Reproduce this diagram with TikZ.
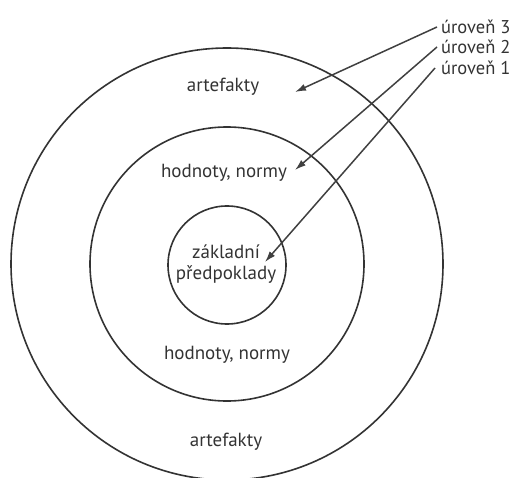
\documentclass[tikz,border=0pt]{standalone}
\usepackage{fontspec}
\setmainfont{PT Sans}
\usetikzlibrary{arrows.meta}
\begin{document}
\begin{tikzpicture}[x=1pt,y=-1pt,
  ring/.style={draw=black!80,line width=1.6pt,circle,inner sep=0pt},
  lbl/.style={font=\fontsize{19}{22}\selectfont,text=black!80,inner sep=0pt},
  lvl/.style={font=\fontsize{18.5}{21}\selectfont,text=black!80,inner sep=0pt,anchor=west},
  arr/.style={draw=black!75,line width=1.5pt,-{Latex[length=11pt,width=7pt]}}]
\useasboundingbox (0,0) rectangle (516,478);
\clip (0,0) rectangle (516,478);
\node[ring,minimum size=432pt] (outer) at (227,264) {};
\node[ring,minimum size=274pt] (middle) at (227,264) {};
\node[ring,minimum size=118pt] (inner) at (227,265) {};
\node[lbl] (a1) at (223,87) {artefakty};
\node[lbl] (h1) at (224,173) {hodnoty, normy};
\node[lbl,align=center,font=\fontsize{19}{21}\selectfont] (z) at (226,264) {základní\\předpoklady};
\node[lbl] (h2) at (227,355) {hodnoty, normy};
\node[lbl] (a2) at (226,442) {artefakty};
\node[lvl] (u3) at (441,27) {úroveň 3};
\node[lvl] (u2) at (441,47) {úroveň 2};
\node[lvl] (u1) at (441,68) {úroveň 1};
\coordinate (t3) at (295,92);
\coordinate (t2) at (295,170);
\coordinate (t1) at (265,262);
\draw[arr] (u3.west) ++(-4,0) -- (t3);
\draw[arr] (u2.west) ++(-4,0) -- (t2);
\draw[arr] (u1.west) ++(-6,0) -- (t1);
\end{tikzpicture}
\end{document}
